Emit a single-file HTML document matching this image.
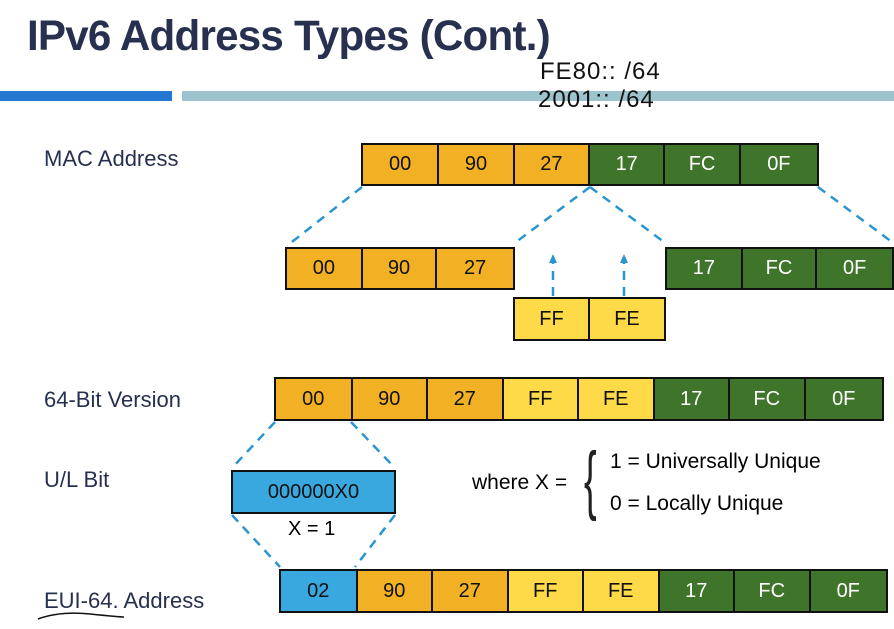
<!DOCTYPE html>
<html><head><meta charset="utf-8"><style>
body{margin:0;width:894px;height:629px;background:#fff;position:relative;overflow:hidden;font-family:"Liberation Sans",Arial,sans-serif}
.t{position:absolute;left:27px;top:12px;font-size:43px;font-weight:bold;color:#27304f;letter-spacing:-0.8px;transform:scaleX(0.98);transform-origin:left top;white-space:nowrap}
.lbl{position:absolute;font-size:22px;color:#27304f}
.row{position:absolute;display:flex;border:2px solid #111;box-sizing:border-box}
.row div{border-right:2px solid #111;display:flex;align-items:center;justify-content:center;font-size:20px;box-sizing:border-box;height:100%}
.row div:last-child{border-right:none}
.o{background:#f2b124;color:#111}.y{background:#fed948;color:#111}.g{background:#3f752b;color:#fff}.b{background:#39a8df;color:#111}
svg{position:absolute;left:0;top:0}
</style></head><body>
<div class="t">IPv6 Address Types (Cont.)</div>
<div style="position:absolute;left:0;top:91px;width:172px;height:10px;background:#2478d4"></div>
<div style="position:absolute;left:182px;top:91px;width:712px;height:10px;background:#9dc3cf"></div>
<div style="position:absolute;left:540px;top:58px;font-size:24px;color:#111;letter-spacing:1px">FE80:: /64</div>
<div style="position:absolute;left:538px;top:86px;font-size:24px;color:#111;letter-spacing:1px">2001:: /64</div>

<div class="lbl" style="left:44px;top:146px">MAC Address</div>
<div class="lbl" style="left:44px;top:387px">64-Bit Version</div>
<div class="lbl" style="left:44px;top:467px">U/L Bit</div>
<div class="lbl" style="left:44px;top:588px">EUI-64. Address</div>

<div class="row" style="left:361px;top:143px;width:458px;height:43px">
<div class="o" style="width:77px">00</div><div class="o" style="width:76px">90</div><div class="o" style="width:76px">27</div><div class="g" style="width:76px">17</div><div class="g" style="width:76px">FC</div><div class="g" style="width:77px">0F</div></div>

<div class="row" style="left:285px;top:247px;width:230px;height:43px">
<div class="o" style="width:77px">00</div><div class="o" style="width:76px">90</div><div class="o" style="width:77px">27</div></div>
<div class="row" style="left:665px;top:247px;width:229px;height:43px">
<div class="g" style="width:77px">17</div><div class="g" style="width:76px">FC</div><div class="g" style="width:76px">0F</div></div>
<div class="row" style="left:513px;top:297px;width:153px;height:44px">
<div class="y" style="width:77px">FF</div><div class="y" style="width:76px">FE</div></div>

<div class="row" style="left:274px;top:377px;width:610px;height:44px">
<div class="o" style="width:77px">00</div><div class="o" style="width:76px">90</div><div class="o" style="width:76px">27</div><div class="y" style="width:76px">FF</div><div class="y" style="width:76px">FE</div><div class="g" style="width:76px">17</div><div class="g" style="width:76px">FC</div><div class="g" style="width:77px">0F</div></div>

<div class="row" style="left:231px;top:470px;width:165px;height:44px"><div class="b" style="width:100%">000000X0</div></div>
<div style="position:absolute;left:288px;top:518px;font-size:20px">X = 1</div>
<div style="position:absolute;left:472px;top:471px;font-size:21px">where X =</div>
<div style="position:absolute;left:584px;top:436px;font-size:76px;font-weight:100;color:#222;transform:scaleX(0.5);transform-origin:left top">{</div>
<div style="position:absolute;left:610px;top:450px;font-size:21px">1 = Universally Unique</div>
<div style="position:absolute;left:610px;top:492px;font-size:21px">0 = Locally Unique</div>

<div class="row" style="left:279px;top:569px;width:609px;height:44px">
<div class="b" style="width:77px">02</div><div class="o" style="width:76px">90</div><div class="o" style="width:76px">27</div><div class="y" style="width:76px">FF</div><div class="y" style="width:76px">FE</div><div class="g" style="width:76px">17</div><div class="g" style="width:76px">FC</div><div class="g" style="width:76px">0F</div></div>

<svg width="894" height="629">
<g stroke="#2a95cf" stroke-width="2.5" stroke-dasharray="9,7" fill="none">
<line x1="362" y1="187" x2="288" y2="245"/>
<line x1="590" y1="187" x2="516" y2="242"/>
<line x1="590" y1="187" x2="664" y2="242"/>
<line x1="818" y1="187" x2="892" y2="242"/>
<line x1="553" y1="296" x2="553" y2="262"/>
<line x1="624" y1="296" x2="624" y2="262"/>
<line x1="275" y1="422" x2="232" y2="468"/>
<line x1="351" y1="422" x2="395" y2="468"/>
<line x1="232" y1="515" x2="280" y2="567"/>
<line x1="395" y1="515" x2="355" y2="567"/>
</g>
<polygon points="553,254 549,263 557,263" fill="#2a95cf"/>
<polygon points="624,254 620,263 628,263" fill="#2a95cf"/>
<path d="M38,619 Q60,611 90,614 T124,617" stroke="#111" stroke-width="1.5" fill="none"/>
</svg>
</body></html>
